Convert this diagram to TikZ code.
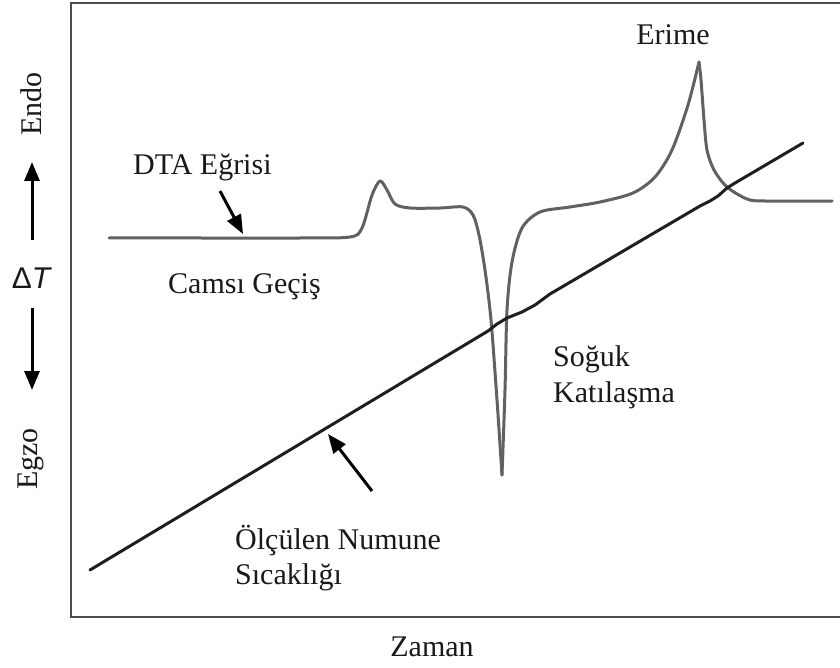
\documentclass[tikz,border=0pt]{standalone}
\usepackage{fontspec}
\setmainfont{Liberation Serif}
\newfontfamily\lsans{Liberation Sans}
\usetikzlibrary{arrows.meta}
\begin{document}
\begin{tikzpicture}[x=1pt,y=-1pt,
  lbl/.style={font=\fontsize{30}{36}\selectfont, text=black!90, inner sep=0pt},
  frameline/.style={draw=black!70, line width=2pt},
  dta/.style={draw=black!62, line width=3pt, line join=round, line cap=round},
  temp/.style={draw=black!88, line width=3pt, line join=round, line cap=round},
  ptr/.style={draw=black, line width=3pt, -{Triangle[length=19pt,width=15pt]}},
]
\useasboundingbox (0,0) rectangle (840,668);
\fill[white] (0,0) rectangle (840,668);
% frame
\draw[frameline] (840,3) -- (71,3) -- (71,617) -- (840,617);
% DTA curve
\draw[dta] plot[smooth, tension=0.5] coordinates {(109,238) (200,238) (300,238) (350,237) (362,228) (372,195) (380,181) (387,190) (395,204) (410,208) (440,208) (463,207) (473,215) (479,235) (485,270) (491,320) (497,400) (502,475)};
\draw[dta] plot[smooth, tension=0.5] coordinates {(502,475) (505,390) (507,310) (512,262) (522,228) (540,212) (570,207) (600,202) (633,193) (655,177) (672,150) (688,105) (699,62)};
\draw[dta] plot[smooth, tension=0.5] coordinates {(699,62) (701,80) (704,120) (707,150) (714,170) (727,187) (747,199) (765,201) (832,201)};
% measured sample temperature line
\draw[temp] (90,570) -- (488,331) -- (497,324) -- (507,318) -- (522,312) -- (535,305) -- (550,294) -- (700,206) -- (710,201) -- (718,196) -- (727,188) -- (735,183) -- (803,143);
% labels
\node[lbl, anchor=base west] (dta) at (133,175) {DTA Eğrisi};
\node[lbl, anchor=base west] (cams) at (168,293) {Camsı Geçiş};
\node[lbl, anchor=base] (erime) at (673,45) {Erime};
\node[lbl, anchor=base west] (soguk) at (553,366) {Soğuk};
\node[lbl, anchor=base west] (katil) at (553,402) {Katılaşma};
\node[lbl, anchor=base west] (olcu) at (235,549) {Ölçülen Numune};
\node[lbl, anchor=base west] (sica) at (235,584) {Sıcaklığı};
\node[lbl, anchor=base] (zaman) at (432,656) {Zaman};
\node[lbl, rotate=90] (endo) at (31,104) {Endo};
\node[lbl, rotate=90] (egzo) at (31,459) {Egzo};
\node[lbl, font=\lsans\fontsize{30}{36}\selectfont] (dT) at (32,278) {Δ\textit{T}};
% pointer arrows
\coordinate (a1s) at (220,191); \coordinate (a1e) at (243,234);
\coordinate (a2s) at (372,491); \coordinate (a2e) at (328,434);
\coordinate (upS) at (32,240); \coordinate (upE) at (32,162);
\coordinate (dnS) at (32,308); \coordinate (dnE) at (32,390);
\draw[ptr] (a1s) -- (a1e);
\draw[ptr] (a2s) -- (a2e);
\draw[ptr] (upS) -- (upE);
\draw[ptr] (dnS) -- (dnE);
\end{tikzpicture}
\end{document}
